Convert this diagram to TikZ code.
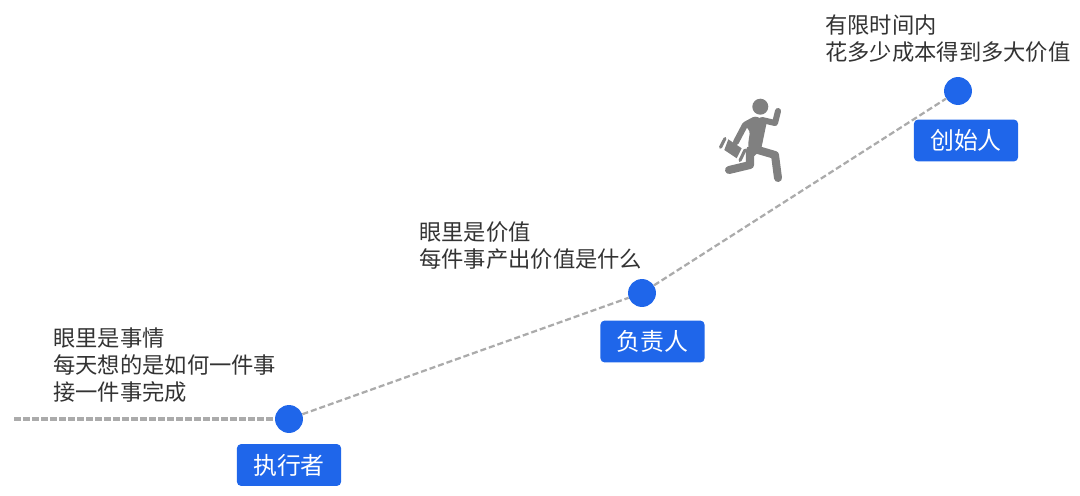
\documentclass[tikz,border=0pt]{standalone}
\usepackage{fontspec}
\setmainfont{Noto Sans CJK SC}
\definecolor{stepblue}{HTML}{1F66EA}
\definecolor{pathgray}{HTML}{ABABAB}
\definecolor{mangray}{HTML}{808080}
\definecolor{textgray}{HTML}{333333}
\tikzset{circ/.style = {fill = stepblue, circle, inner sep = 0, minimum size = 28*0.709pt}}
\tikzset{role/.style = {fill = stepblue, rounded corners = 3pt, text = white, inner sep = 0, minimum width = 104.5*0.709pt, minimum height = 42*0.709pt, font = \fontsize{17}{19}\selectfont}}
\tikzset{note/.style = {anchor = west, align = left, inner sep = 0, text = textgray, font = \fontsize{15.85}{19.1}\selectfont}}
\tikzset{trail/.style = {draw = pathgray, line width = 1.6pt, dash pattern = on 4.3pt off 2.1pt}}
\tikzset{limb/.style = {draw = mangray, line width = 5.7pt, line cap = round, line join = round}}
\tikzset{arm/.style = {limb, line width = 4.3pt}}
\tikzset{casebar/.style = {draw = mangray, line width = 2.2pt, line cap = round}}
\begin{document}
\begin{tikzpicture}[x=0.025cm, y=-0.025cm]
          \useasboundingbox (0, 0) rectangle (1080, 495);
          \coordinate (start) at (14, 419);
          \node [circ] (doer) at (289, 419) {};
          \node [circ] (lead) at (642, 293) {};
          \node [circ] (founder) at (958, 91) {};

          \draw [trail, line width = 2.3pt, dash pattern = on 4.8pt off 1.6pt] (start) -- (doer);
          \draw [trail] (doer) -- (lead);
          \draw [trail] (lead) -- (founder);

          \node [role] (doerlabel) at (289, 465) {执行者};
          \node [role] (leadlabel) at (652.5, 341.5) {负责人};
          \node [role] (founderlabel) at (966, 140.5) {创始人};

          \node [note] (doernote) at (53, 365) {眼里是事情\\每天想的是如何一件事\\接一件事完成};
          \node [note] (leadnote) at (419, 245.5) {眼里是价值\\每件事产出价值是什么};
          \node [note] (foundernote) at (825, 38.5) {有限时间内\\花多少成本得到多大价值};

          % runner
          \fill [mangray] (760.3, 106.7) circle (8);
          \fill [mangray, rounded corners = 2pt] (742, 123) -- (755, 116) -- (767, 121) -- (761, 150) -- (752, 158) -- (748, 145) -- (750, 131) -- cycle;
          \draw [arm] (762, 120) -- (775, 123) -- (778, 111);
          \draw [arm] (745, 125) -- (736, 142);
          \draw [limb] (758, 150) -- (775, 155) -- (778, 178);
          \draw [limb] (750, 150) -- (750, 165) -- (729, 170);
          \fill [mangray] (728.3, 139.3) -- (741.7, 148.3) -- (736.7, 158.3) -- (724.3, 150) -- cycle;
          \draw [casebar] (725, 138.5) -- (720.5, 147.3);
          \draw [casebar] (745, 150) -- (740, 160.5);
        \end{tikzpicture}
\end{document}
